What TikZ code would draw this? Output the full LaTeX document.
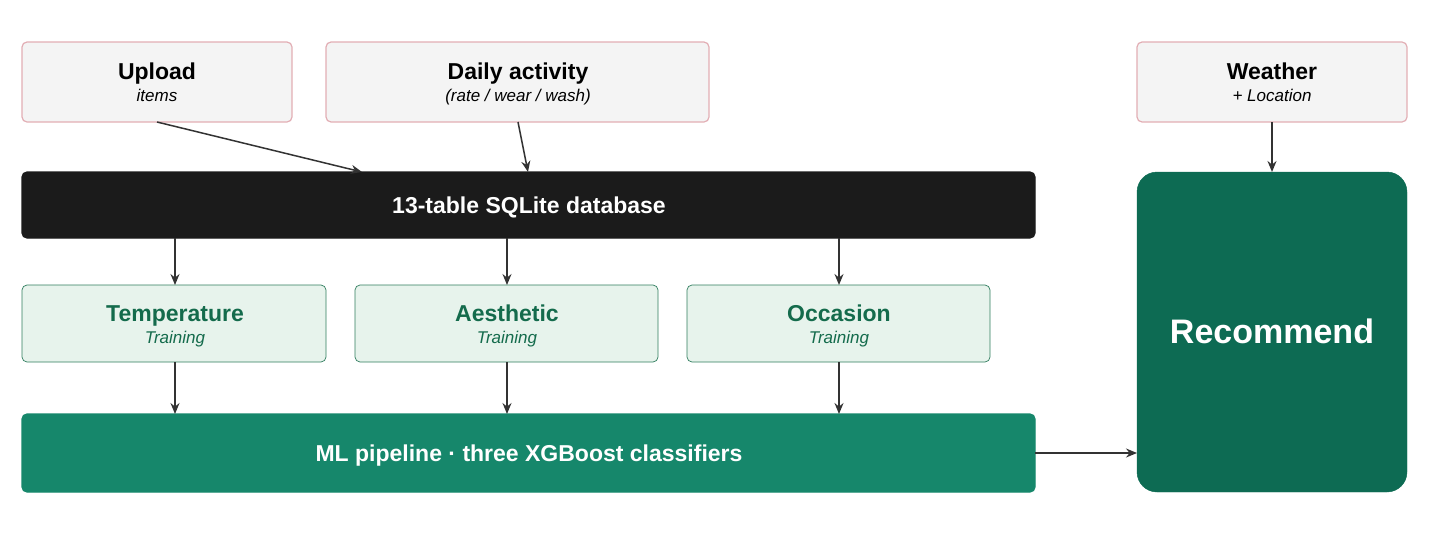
\documentclass[tikz,border=0pt]{standalone}
\usepackage{fontspec}
\setmainfont{Liberation Sans}
\usetikzlibrary{arrows.meta}
\definecolor{inbg}{HTML}{F4F4F4}
\definecolor{inbd}{HTML}{E2AEB4}
\definecolor{trbg}{HTML}{E7F3EC}
\definecolor{trbd}{HTML}{2F7D5E}
\definecolor{trtx}{HTML}{146B4C}
\definecolor{mlbg}{HTML}{16876B}
\definecolor{recbg}{HTML}{0D6B53}
\definecolor{dbbg}{HTML}{1B1B1B}
\definecolor{arr}{HTML}{333333}
\tikzset{
 box/.style={rounded corners=5pt,line width=1.2pt},
 inbox/.style={box,fill=inbg,draw=inbd},
 trbox/.style={box,fill=trbg,draw=trbd,line width=0.7pt},
 ttl/.style={inner sep=0pt,anchor=base,font=\fontsize{23}{27}\selectfont\bfseries},
 stl/.style={inner sep=0pt,anchor=base,font=\fontsize{17}{20}\selectfont\itshape},
 conn/.style={-{Stealth[length=11pt,width=9pt]},draw=arr,line width=1.5pt},
}
\begin{document}
\begin{tikzpicture}[x=1pt,y=-1pt]
\useasboundingbox (0,0) rectangle (1431,552);
% input boxes
\draw[inbox] (22,42) rectangle (292,122);
\node[ttl] (up) at (157,79) {Upload};
\node[stl] (ups) at (157,101) {items};
\coordinate (upb) at (157,122);
\draw[inbox] (326,42) rectangle (709,122);
\node[ttl] (da) at (518,79) {Daily activity};
\node[stl] (das) at (518,101) {(rate / wear / wash)};
\coordinate (dab) at (518,122);
\draw[inbox] (1137,42) rectangle (1407,122);
\node[ttl] (we) at (1272,79) {Weather};
\node[stl] (wes) at (1272,101) {+ Location};
\coordinate (web) at (1272,122);
% database
\draw[box,fill=dbbg,draw=dbbg] (22,172) rectangle (1035,238);
\node[ttl,text=white] (db) at (529,213) {13-table SQLite database};
\coordinate (dbu1) at (362,172);
\coordinate (dbu2) at (528,172);
% trainings
\foreach \n/\a/\b/\c/\t in {te/22/326/175/Temperature,ae/355/658/507/Aesthetic,oc/687/990/839/Occasion}{
 \draw[trbox] (\a,285) rectangle (\b,362);
 \node[ttl,text=trtx] (\n) at (\c,321) {\t};
 \node[stl,text=trtx] (\n s) at (\c,343) {Training};
 \coordinate (\n t) at (\c,285);
 \coordinate (\n b) at (\c,362);
 \coordinate (\n d) at (\c,238);
 \coordinate (\n m) at (\c,414);
}
% ML
\draw[box,fill=mlbg,draw=mlbg] (22,414) rectangle (1035,492);
\node[ttl,text=white] (ml) at (529,461) {ML pipeline · three XGBoost classifiers};
\coordinate (mlr) at (1035,453);
% recommend
\draw[rounded corners=20pt,fill=recbg,draw=recbg] (1137,172) rectangle (1407,492);
\node[inner sep=0pt,anchor=base,text=white,font=\fontsize{34}{40}\selectfont\bfseries] (rec) at (1272,343) {Recommend};
\coordinate (recl) at (1137,453);
\coordinate (rect) at (1272,172);
% connectors
\draw[conn] (upb) -- (dbu1);
\draw[conn] (dab) -- (dbu2);
\draw[conn] (web) -- (rect);
\foreach \n in {te,ae,oc}{
 \draw[conn] (\n d) -- (\n t);
 \draw[conn] (\n b) -- (\n m);
}
\draw[conn] (mlr) -- (recl);
\end{tikzpicture}
\end{document}
